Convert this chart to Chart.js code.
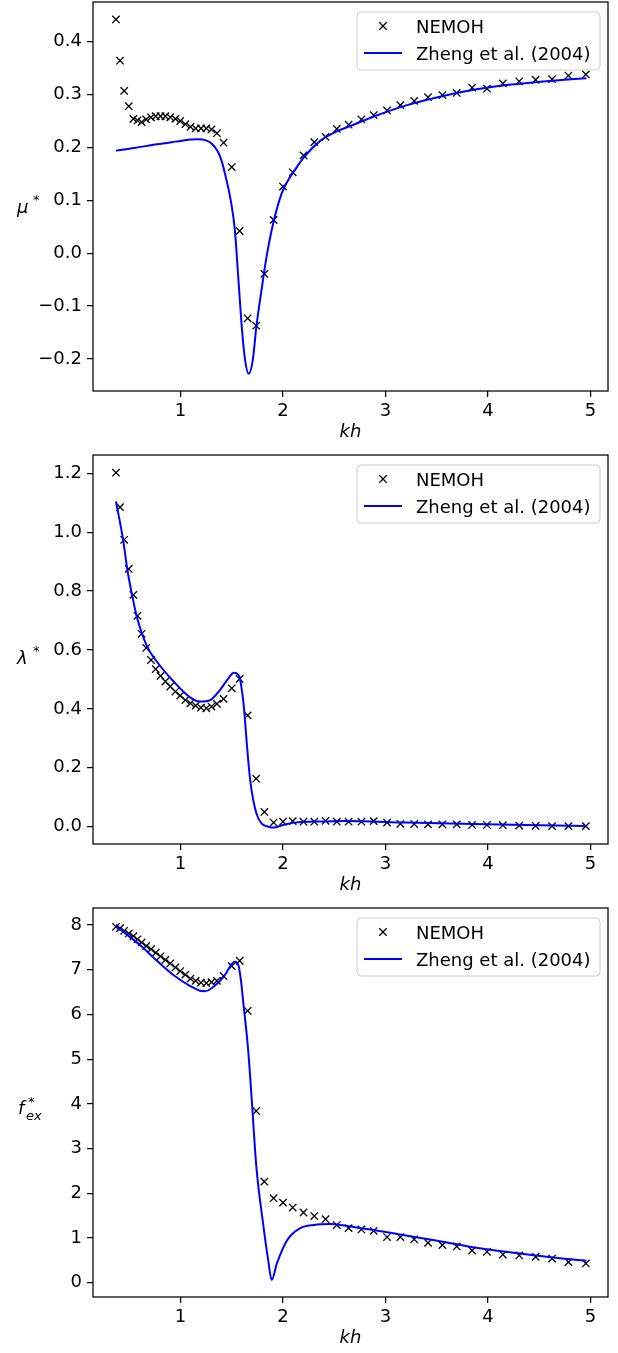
<!DOCTYPE html>
<html>
<head>
<meta charset="utf-8">
<script src="https://cdn.jsdelivr.net/npm/chart.js@4.4.1/dist/chart.umd.min.js"></script>
<style>
  html, body { margin: 0; padding: 0; background: #fff; }
  #wrap { position: relative; width: 618px; height: 1353px; overflow: hidden; }
  canvas { position: absolute; left: 0; }
</style>
</head>
<body>
<div id="wrap">
  <canvas id="muChart" width="618" height="453" style="top:0px"></canvas>
  <canvas id="lamChart" width="618" height="453" style="top:453px"></canvas>
  <canvas id="fexChart" width="618" height="447" style="top:906px"></canvas>
</div>
<script>
// NEMOH results (same kh points in all three panels)
const khNemoh = [0.37, 0.41, 0.45, 0.495, 0.54, 0.58, 0.62, 0.665, 0.712, 0.758,
  0.805, 0.852, 0.90, 0.95, 0.997, 1.047, 1.097, 1.148, 1.20, 1.252,
  1.302, 1.355, 1.42, 1.50, 1.577, 1.655, 1.738, 1.818, 1.908, 2.0,
  2.095, 2.20, 2.305, 2.415, 2.525, 2.64, 2.765, 2.885, 3.015, 3.145,
  3.28, 3.415, 3.555, 3.695, 3.845, 3.99, 4.145, 4.305, 4.465, 4.625,
  4.785, 4.955];
const muNemoh = [0.442, 0.364, 0.307, 0.278, 0.254, 0.251, 0.248, 0.253, 0.257, 0.259,
  0.259, 0.259, 0.257, 0.254, 0.250, 0.244, 0.239, 0.236, 0.236, 0.236,
  0.234, 0.227, 0.209, 0.163, 0.042, -0.123, -0.137, -0.039, 0.063, 0.126,
  0.153, 0.185, 0.210, 0.220, 0.235, 0.243, 0.253, 0.261, 0.270, 0.280,
  0.288, 0.295, 0.299, 0.303, 0.313, 0.311, 0.321, 0.325, 0.328, 0.329,
  0.336, 0.338];
const lamNemoh = [1.202, 1.085, 0.974, 0.875, 0.787, 0.716, 0.655, 0.607, 0.566, 0.535,
  0.512, 0.493, 0.476, 0.459, 0.445, 0.430, 0.419, 0.411, 0.404, 0.402,
  0.408, 0.417, 0.434, 0.470, 0.502, 0.378, 0.163, 0.050, 0.014, 0.017,
  0.019, 0.017, 0.017, 0.020, 0.017, 0.017, 0.017, 0.019, 0.014, 0.010,
  0.009, 0.008, 0.008, 0.008, 0.006, 0.006, 0.005, 0.004, 0.003, 0.002,
  0.002, 0.002];
const fexNemoh = [7.96, 7.93, 7.87, 7.81, 7.75, 7.68, 7.61, 7.53, 7.46, 7.38,
  7.30, 7.22, 7.14, 7.05, 6.97, 6.89, 6.80, 6.75, 6.71, 6.70,
  6.72, 6.75, 6.86, 7.08, 7.20, 6.08, 3.84, 2.26, 1.89, 1.79,
  1.68, 1.57, 1.49, 1.42, 1.29, 1.22, 1.19, 1.16, 1.02, 1.02,
  0.97, 0.89, 0.84, 0.81, 0.72, 0.69, 0.63, 0.61, 0.58, 0.54,
  0.46, 0.43];

// Zheng et al. (2004) curves
const khZhengMu = [0.37, 0.55, 0.77, 0.95, 1.10, 1.17, 1.255, 1.30, 1.337, 1.37,
  1.40, 1.45, 1.49, 1.53, 1.565, 1.60, 1.63, 1.665, 1.705, 1.74,
  1.79, 1.84, 1.905, 1.987, 2.05, 2.10, 2.215, 2.36, 2.52, 2.65,
  2.88, 3.21, 3.53, 3.86, 4.18, 4.51, 4.96];
const muZheng = [0.194, 0.199, 0.206, 0.211, 0.215, 0.2155, 0.213, 0.208, 0.200, 0.19,
  0.175, 0.137, 0.100, 0.044, -0.050, -0.145, -0.202, -0.228, -0.202, -0.139,
  -0.070, -0.006, 0.057, 0.113, 0.138, 0.153, 0.184, 0.212, 0.230, 0.240,
  0.258, 0.280, 0.296, 0.309, 0.318, 0.324, 0.331];
const khZhengLam = [0.37, 0.44, 0.48, 0.527, 0.573, 0.67, 0.77, 0.93, 1.09, 1.19,
  1.29, 1.385, 1.467, 1.52, 1.574, 1.60, 1.62, 1.645, 1.67, 1.695,
  1.74, 1.79, 1.856, 1.91, 2.0, 2.1, 2.39, 2.6, 3.2, 3.86,
  4.51, 4.96];
const lamZheng = [1.104, 0.974, 0.875, 0.787, 0.714, 0.615, 0.560, 0.494, 0.440, 0.425,
  0.430, 0.464, 0.504, 0.523, 0.510, 0.460, 0.400, 0.290, 0.190, 0.120,
  0.046, 0.011, 0.000, -0.003, 0.006, 0.013, 0.018, 0.019, 0.014, 0.009,
  0.005, 0.002];
const khZhengFex = [0.37, 0.44, 0.605, 0.76, 0.93, 1.09, 1.19, 1.24, 1.30, 1.42,
  1.53, 1.565, 1.59, 1.61, 1.66, 1.695, 1.74, 1.81, 1.855, 1.89,
  1.94, 2.04, 2.17, 2.30, 2.46, 2.62, 2.88, 3.14, 3.42, 3.60,
  3.92, 4.25, 4.57, 4.96];
const fexZheng = [7.98, 7.85, 7.55, 7.22, 6.88, 6.64, 6.53, 6.52, 6.58, 6.84,
  7.18, 7.10, 6.75, 6.32, 5.20, 4.09, 2.59, 1.25, 0.51, 0.06,
  0.43, 0.95, 1.22, 1.29, 1.31, 1.27, 1.18, 1.08, 0.97, 0.90,
  0.77, 0.67, 0.58, 0.49];

// tick labels
const khTicks = [1, 2, 3, 4, 5];
const muTicks = [-0.2, -0.1, 0.0, 0.1, 0.2, 0.3, 0.4];
const lamTicks = [0.0, 0.2, 0.4, 0.6, 0.8, 1.0, 1.2];
const fexTicks = [0, 1, 2, 3, 4, 5, 6, 7, 8];

const FONT = "'DejaVu Sans', 'Liberation Sans', sans-serif";
const AREA_TOP = 2, AREA_H = 389, AREA_LEFT = 93, AREA_RIGHT_PAD = 10;

const toPoints = (xs, ys) => xs.map((x, i) => ({ x: x, y: ys[i] }));

// frame, legend and the unrotated y label
function decorPlugin(labelParts) {
  return {
    id: 'decor',
    afterDraw(chart) {
      const ctx = chart.ctx;
      const a = chart.chartArea;
      ctx.save();
      ctx.strokeStyle = '#000';
      ctx.lineWidth = 1.25;
      ctx.strokeRect(a.left, a.top, a.right - a.left, a.bottom - a.top);

      // legend box
      const bw = 243, bh = 58;
      const bx = a.right - 8 - bw, by = a.top + 10;
      ctx.beginPath();
      ctx.roundRect(bx, by, bw, bh, 4);
      ctx.fillStyle = 'rgba(255,255,255,0.8)';
      ctx.fill();
      ctx.strokeStyle = '#cccccc';
      ctx.lineWidth = 1;
      ctx.stroke();

      const ds = chart.data.datasets;
      // marker entry
      const cx = bx + 26, cy = by + 14;
      ctx.strokeStyle = '#000';
      ctx.lineWidth = 1.3;
      ctx.beginPath();
      ctx.moveTo(cx - 3.7, cy - 3.7); ctx.lineTo(cx + 3.7, cy + 3.7);
      ctx.moveTo(cx - 3.7, cy + 3.7); ctx.lineTo(cx + 3.7, cy - 3.7);
      ctx.stroke();
      // line entry
      ctx.strokeStyle = '#0000ff';
      ctx.lineWidth = 2;
      ctx.beginPath();
      ctx.moveTo(bx + 7, by + 41); ctx.lineTo(bx + 45, by + 41);
      ctx.stroke();

      ctx.fillStyle = '#000';
      ctx.font = '18px ' + FONT;
      ctx.textBaseline = 'alphabetic';
      ctx.textAlign = 'left';
      ctx.fillText(ds[0].label, bx + 59, by + 20.5);
      ctx.fillText(ds[1].label, bx + 59, by + 47.5);

      // y label (math style)
      labelParts.forEach(p => {
        ctx.font = (p.italic ? 'italic ' : '') + p.size + 'px ' + FONT;
        ctx.fillText(p.text, p.x, p.y);
      });
      ctx.restore();
    }
  };
}

function makeChart(id, nemohY, zhengX, zhengY, yMin, yMax, yTicks, fmt, labelParts) {
  const canvas = document.getElementById(id);
  const H = canvas.height;
  return new Chart(canvas, {
    type: 'scatter',
    data: {
      datasets: [
        {
          label: 'NEMOH',
          data: toPoints(khNemoh, nemohY),
          showLine: false,
          pointStyle: 'crossRot',
          pointRadius: 5.2,
          pointHoverRadius: 5.2,
          pointBorderWidth: 1.3,
          borderColor: '#000',
          backgroundColor: '#000',
          order: 2
        },
        {
          label: 'Zheng et al. (2004)',
          data: toPoints(zhengX, zhengY),
          showLine: true,
          pointRadius: 0,
          borderColor: '#0000ff',
          borderWidth: 2,
          cubicInterpolationMode: 'monotone',
          order: 1
        }
      ]
    },
    options: {
      responsive: false,
      animation: false,
      devicePixelRatio: 1,
      events: [],
      layout: {
        autoPadding: false,
        padding: { top: AREA_TOP, right: AREA_RIGHT_PAD, left: 0, bottom: 0 }
      },
      plugins: { legend: { display: false }, tooltip: { enabled: false } },
      scales: {
        x: {
          type: 'linear',
          min: 0.146,
          max: 5.171,
          afterBuildTicks: s => { s.ticks = khTicks.map(v => ({ value: v })); },
          afterFit: s => { s.height = H - AREA_TOP - AREA_H; s.paddingLeft = 0; s.paddingRight = 0; },
          ticks: {
            autoSkip: false, maxRotation: 0, padding: 4, color: '#000',
            font: { family: FONT, size: 18 },
            callback: v => String(v)
          },
          grid: { drawOnChartArea: false, tickLength: 6, color: '#000', lineWidth: 1.25 },
          border: { display: false },
          title: {
            display: true, text: 'kh', color: '#000',
            font: { family: FONT, size: 18, style: 'italic' },
            padding: { top: 0, bottom: H - (AREA_TOP + AREA_H + 41) - 10.8 }
          }
        },
        y: {
          min: yMin,
          max: yMax,
          afterBuildTicks: s => { s.ticks = yTicks.map(v => ({ value: v })); },
          afterFit: s => { s.width = AREA_LEFT; s.paddingTop = 0; s.paddingBottom = 0; },
          ticks: {
            autoSkip: false, padding: 5, color: '#000',
            font: { family: FONT, size: 18 },
            callback: fmt
          },
          grid: { drawOnChartArea: false, tickLength: 6, color: '#000', lineWidth: 1.25 },
          border: { display: false }
        }
      }
    },
    plugins: [decorPlugin(labelParts)]
  });
}

const oneDec = v => (Math.abs(v) < 1e-9 ? '0.0' : v.toFixed(1).replace('-', '\u2212'));
const intFmt = v => String(Math.round(v));

makeChart('muChart', muNemoh, khZhengMu, muZheng, -0.2605, 0.475, muTicks, oneDec, [
  { text: '\u03bc', x: 17, y: 213, italic: true, size: 18 },
  { text: '*', x: 33, y: 204, italic: false, size: 13 }
]);
makeChart('lamChart', lamNemoh, khZhengLam, lamZheng, -0.0587, 1.262, lamTicks, oneDec, [
  { text: '\u03bb', x: 17, y: 211, italic: true, size: 18 },
  { text: '*', x: 33, y: 202, italic: false, size: 13 }
]);
makeChart('fexChart', fexNemoh, khZhengFex, fexZheng, -0.32, 8.38, fexTicks, intFmt, [
  { text: 'f', x: 18, y: 208, italic: true, size: 18 },
  { text: '*', x: 28, y: 200, italic: false, size: 13 },
  { text: 'ex', x: 26, y: 214, italic: true, size: 13 }
]);
</script>
</body>
</html>
